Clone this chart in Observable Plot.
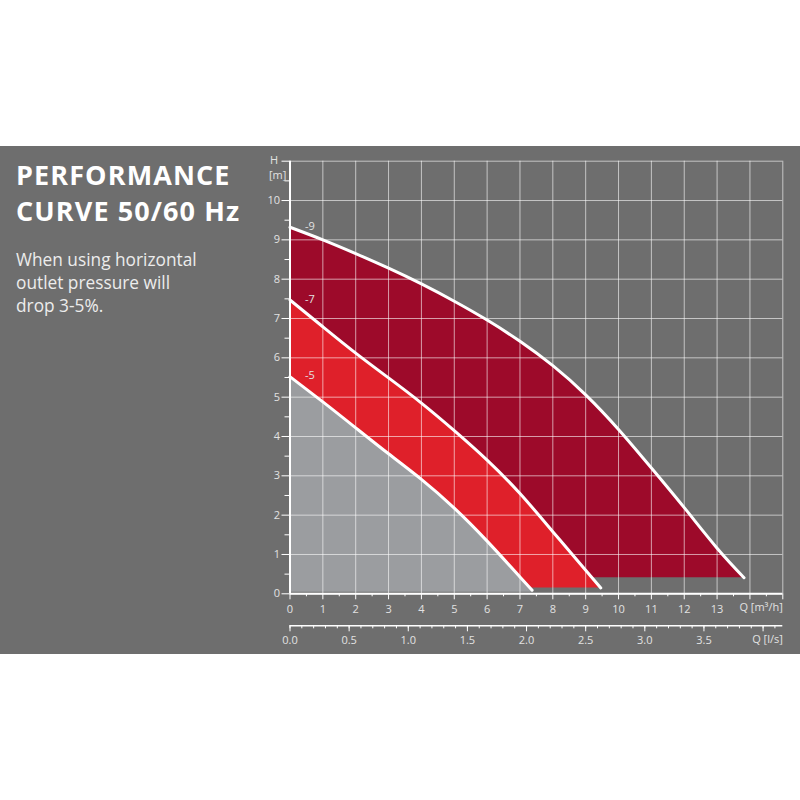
<!DOCTYPE html>
<html>
<head>
<meta charset="utf-8">
<script src="https://cdn.jsdelivr.net/npm/d3@7"></script>
<script src="https://cdn.jsdelivr.net/npm/@observablehq/plot@0.6"></script>
<style>
  html, body { margin: 0; padding: 0; background: #ffffff; }
  #wrap { position: relative; margin-top: 146px; width: 800px; height: 508px; background: #6e6e6e; font-family: "Open Sans", sans-serif; }
  #wrap svg { position: absolute; left: 0; top: 0; background: transparent; }
  .title { position: absolute; left: 16px; top: 11px; color: #ffffff; font-weight: 700; font-size: 27px; line-height: 36px; letter-spacing: 1.1px; }
  .sub { position: absolute; left: 16px; top: 102px; color: #ececec; font-size: 17.3px; line-height: 23px; }
</style>
</head>
<body>
<div id="wrap">
  <div class="title">PERFORMANCE<br>CURVE 50/60 Hz</div>
  <div class="sub">When using horizontal<br>outlet pressure will<br>drop 3-5%.</div>
</div>
<script>
// Curve data: Q [m³/h] vs H [m]
const q9 = [0, 1, 2, 3, 4, 5, 6, 7, 8, 9, 10, 11, 12, 13, 13.82];
const h9 = [9.32, 9.0, 8.65, 8.28, 7.88, 7.44, 6.96, 6.42, 5.8, 5.06, 4.18, 3.2, 2.19, 1.16, 0.41];
const q7 = [0, 1, 2, 3, 4, 5, 6, 7, 8, 9, 9.46];
const h7 = [7.47, 6.79, 6.12, 5.49, 4.85, 4.15, 3.40, 2.55, 1.58, 0.6, 0.15];
const q5 = [0, 1, 2, 3, 4, 5, 6, 7, 7.37];
const h5 = [5.52, 4.88, 4.22, 3.56, 2.91, 2.18, 1.34, 0.43, 0.09];
const bottoms = [0.41, 0.15, 0.04];          // lower edge of each band, H [m]
const seriesNames = ["-9", "-7", "-5"];
const fills = ["#9d0a2a", "#df202a", "#9b9da0"];

// Axis ticks
const xMajor = d3.range(0, 16, 1);
const xMinor = d3.range(0.5, 15, 1);
const xLabels = d3.range(0, 14, 1);
const yMajor = d3.range(0, 12, 1);
const yMinor = d3.range(0.5, 11, 1);
const yLabels = d3.range(0, 11, 1);
const lsMajor = [0, 0.5, 1.0, 1.5, 2.0, 2.5, 3.0, 3.5, 4.0];
const lsMinor = d3.range(0, 4.17, 0.1);
const lsLabels = [0, 0.5, 1.0, 1.5, 2.0, 2.5, 3.0, 3.5];
const M3H_PER_LS = 3.6;

const curves = [
  q9.map((q, i) => ({q, h: h9[i]})),
  q7.map((q, i) => ({q, h: h7[i]})),
  q5.map((q, i) => ({q, h: h5[i]}))
];

const W = "white";
const txt = "#e2e2e2";
const font = "Open Sans";

const marks = [];
// filled bands
curves.forEach((c, i) => {
  marks.push(Plot.areaY(c, {x: "q", y1: bottoms[i], y2: "h", fill: fills[i], curve: "natural"}));
});
// grid
marks.push(Plot.gridX(xMajor, {stroke: W, strokeOpacity: 0.6, strokeWidth: 1}));
marks.push(Plot.gridY(yMajor, {stroke: W, strokeOpacity: 0.6, strokeWidth: 1}));
// curves
curves.forEach((c) => {
  marks.push(Plot.line(c, {x: "q", y: "h", stroke: W, strokeWidth: 3, curve: "natural"}));
});
// series labels
curves.forEach((c, i) => {
  marks.push(Plot.text([c[0]], {x: "q", y: "h", text: () => seriesNames[i], dx: 20, dy: -1, fill: txt, fontSize: 11, fontFamily: font}));
});
// main axes lines
marks.push(Plot.ruleX([0], {stroke: W, strokeWidth: 2}));
marks.push(Plot.ruleY([0], {stroke: W, strokeWidth: 2}));
// y axis
marks.push(Plot.axisY(yMajor, {tickSize: 8, tickPadding: 2, tickFormat: d => yLabels.includes(d) ? String(d) : "", stroke: W, fill: txt, fontSize: 11, fontFamily: font, label: null}));
marks.push(Plot.axisY(yMinor, {tickSize: 5, tickFormat: () => "", stroke: W, label: null}));
marks.push(Plot.text(["H"], {frameAnchor: "top-left", dx: -20, dy: -5, fill: txt, fontSize: 11, fontFamily: font}));
marks.push(Plot.text(["[m]"], {frameAnchor: "top-left", dx: -21, dy: 10, fill: txt, fontSize: 11, fontFamily: font}));
// x axis (m³/h)
marks.push(Plot.axisX(xMajor, {tickSize: 6, tickPadding: 5, tickFormat: d => xLabels.includes(d) ? String(d) : "", stroke: W, fill: txt, fontSize: 11, fontFamily: font, label: null}));
marks.push(Plot.axisX(xMinor, {tickSize: 3, tickFormat: () => "", stroke: W, label: null}));
marks.push(Plot.text(["Q [m³/h]"], {frameAnchor: "bottom-right", dy: 17, textAnchor: "end", fill: txt, fontSize: 11, fontFamily: font}));
// secondary x axis (l/s)
marks.push(Plot.ruleY([0], {stroke: W, strokeWidth: 1.5, dy: 32}));
marks.push(Plot.axisX(lsMajor.map(v => v * M3H_PER_LS), {dy: 32, tickSize: 6, tickPadding: 4, tickFormat: d => { const v = d / M3H_PER_LS; return lsLabels.some(l => Math.abs(l - v) < 1e-6) ? v.toFixed(1) : ""; }, stroke: W, fill: txt, fontSize: 11, fontFamily: font, label: null}));
marks.push(Plot.axisX(lsMinor.map(v => v * M3H_PER_LS), {dy: 32, tickSize: 3, tickFormat: () => "", stroke: W, label: null}));
marks.push(Plot.text(["Q [l/s]"], {frameAnchor: "bottom-right", dy: 49, textAnchor: "end", fill: txt, fontSize: 11, fontFamily: font}));

const chart = Plot.plot({
  width: 800,
  height: 508,
  marginLeft: 289.5,
  marginRight: 17.7,
  marginTop: 14.7,
  marginBottom: 60.7,
  x: {domain: [0, 15], type: "linear"},
  y: {domain: [0, 11], type: "linear"},
  style: {background: "transparent", fontFamily: font, color: txt, overflow: "visible"},
  marks
});
document.getElementById("wrap").prepend(chart);
</script>
</body>
</html>
